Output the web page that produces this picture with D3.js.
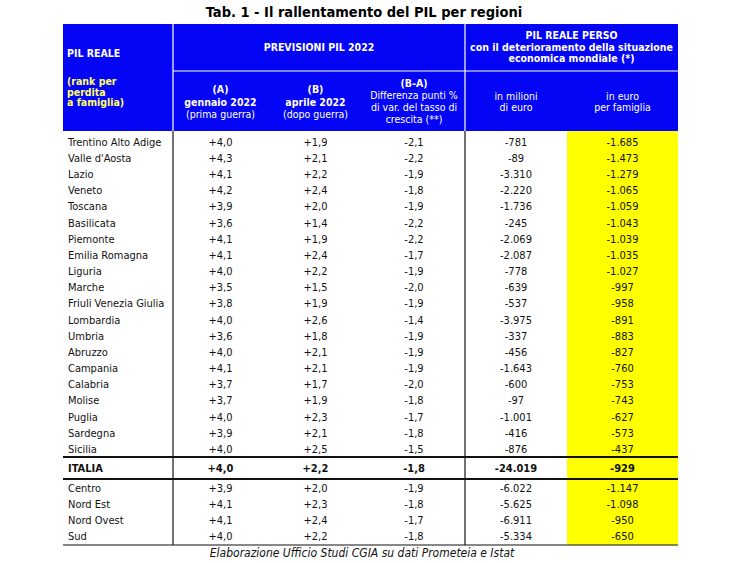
<!DOCTYPE html>
<html>
<head>
<meta charset="utf-8">
<script src="https://cdn.jsdelivr.net/npm/d3@7"></script>
<style>
  body { margin: 0; background: #fff; }
  svg { display: block; }
</style>
</head>
<body>
<svg id="chart"></svg>
<script>
// regioni in ordine di perdita per famiglia
const regions = ["Trentino Alto Adige", "Valle d'Aosta", "Lazio", "Veneto", "Toscana", "Basilicata",
  "Piemonte", "Emilia Romagna", "Liguria", "Marche", "Friuli Venezia Giulia", "Lombardia", "Umbria",
  "Abruzzo", "Campania", "Calabria", "Molise", "Puglia", "Sardegna", "Sicilia"];
const gennaio = [4.0, 4.3, 4.1, 4.2, 3.9, 3.6, 4.1, 4.1, 4.0, 3.5, 3.8, 4.0, 3.6, 4.0, 4.1, 3.7, 3.7, 4.0, 3.9, 4.0];
const aprile = [1.9, 2.1, 2.2, 2.4, 2.0, 1.4, 1.9, 2.4, 2.2, 1.5, 1.9, 2.6, 1.8, 2.1, 2.1, 1.7, 1.9, 2.3, 2.1, 2.5];
const differenza = [-2.1, -2.2, -1.9, -1.8, -1.9, -2.2, -2.2, -1.7, -1.9, -2.0, -1.9, -1.4, -1.9, -1.9, -1.9, -2.0, -1.8, -1.7, -1.8, -1.5];
const milioni = [-781, -89, -3310, -2220, -1736, -245, -2069, -2087, -778, -639, -537, -3975, -337, -456, -1643, -600, -97, -1001, -416, -876];
const famiglia = [-1685, -1473, -1279, -1065, -1059, -1043, -1039, -1035, -1027, -997, -958, -891, -883, -827, -760, -753, -743, -627, -573, -437];

// totale Italia
const italia = {name: "ITALIA", gen: 4.0, apr: 2.2, diff: -1.8, mil: -24019, fam: -929};

// ripartizioni
const areas = ["Centro", "Nord Est", "Nord Ovest", "Sud"];
const areaGennaio = [3.9, 4.1, 4.1, 4.0];
const areaAprile = [2.0, 2.3, 2.4, 2.2];
const areaDiff = [-1.9, -1.8, -1.7, -1.8];
const areaMilioni = [-6022, -5625, -6911, -5334];
const areaFamiglia = [-1147, -1098, -950, -650];

const title = "Tab. 1 - Il rallentamento del PIL per regioni";
const source = "Elaborazione Ufficio Studi CGIA su dati Prometeia e Istat";

const config = {
  width: 729, height: 563,
  left: 63, right: 678,
  headTop: 24, headMid: 71, headBottom: 131,
  bodyBottom: 545,
  blue: "#0505f5", yellow: "#ffff00", paleYellow: "#ffff66",
  font: "'DejaVu Sans Condensed', 'DejaVu Sans', sans-serif"
};

// formato italiano: virgola decimale, punto per le migliaia
const it = d3.formatLocale({decimal: ",", thousands: ".", grouping: [3], currency: ["", "€"], minus: "-"});
const fPct = it.format("+.1f");
const fInt = it.format(",d");

// righe della tabella
const rows = regions.map((r, i) => ({name: r, gen: gennaio[i], apr: aprile[i], diff: differenza[i], mil: milioni[i], fam: famiglia[i], slot: i, bold: false}));
rows.push(Object.assign({}, italia, {slot: 20.2, bold: true}));
areas.forEach((a, i) => rows.push({name: a, gen: areaGennaio[i], apr: areaAprile[i], diff: areaDiff[i], mil: areaMilioni[i], fam: areaFamiglia[i], slot: 21.45 + i * 0.99, bold: false}));

const svg = d3.select("#chart").attr("width", config.width).attr("height", config.height);

// scala verticale: posizione di riga -> y del centro
const y = d3.scaleLinear().domain([0, 19]).range([142, 449]);

// colonne: bordi
const colKeys = ["name", "gen", "apr", "diff", "mil", "fam"];
const colEdges = [63, 173, 268, 363, 465, 567, 678];
const x = d3.scaleOrdinal().domain(colKeys).range(colKeys.map((k, i) => (colEdges[i] + colEdges[i + 1]) / 2));

// titolo
svg.append("text")
  .attr("x", 364).attr("y", 17)
  .attr("text-anchor", "middle")
  .attr("font-family", config.font)
  .attr("font-weight", "bold")
  .attr("font-size", "14.5px")
  .attr("fill", "#000")
  .text(title);

// intestazione blu
svg.append("rect")
  .attr("x", config.left).attr("y", config.headTop)
  .attr("width", config.right - config.left).attr("height", config.headBottom - config.headTop)
  .attr("fill", config.blue);

// colonna gialla
svg.append("rect")
  .attr("x", colEdges[5]).attr("y", config.headBottom)
  .attr("width", colEdges[6] - colEdges[5]).attr("height", config.bodyBottom - config.headBottom)
  .attr("fill", config.yellow);

// linee bianche nell'intestazione
const hd = svg.append("g").attr("stroke", "#fff").attr("stroke-width", 1.2);
hd.append("line").attr("x1", colEdges[1]).attr("x2", colEdges[1]).attr("y1", config.headTop).attr("y2", config.headBottom);
hd.append("line").attr("x1", colEdges[4]).attr("x2", colEdges[4]).attr("y1", config.headTop).attr("y2", config.headBottom);
hd.append("line").attr("x1", colEdges[1]).attr("x2", config.right).attr("y1", config.headMid).attr("y2", config.headMid);

function multiline(g, lines, cx, cy, opts) {
  const lh = opts.lh || 11.5;
  const t = g.append("text")
    .attr("x", cx)
    .attr("text-anchor", opts.anchor || "middle")
    .attr("font-family", config.font)
    .attr("font-size", opts.size || "10.5px")
    .attr("fill", opts.fill || "#fff");
  const y0 = cy - (lines.length - 1) * lh / 2;
  lines.forEach((l, i) => {
    t.append("tspan")
      .attr("x", cx)
      .attr("y", y0 + i * lh)
      .attr("dy", "0.35em")
      .attr("font-weight", l.bold ? "bold" : "normal")
      .text(l.t);
  });
}

const head = svg.append("g");
multiline(head, [{t: "PIL REALE", bold: true}], 67, 53, {anchor: "start"});
multiline(head, [{t: "(rank per", bold: true}, {t: "perdita", bold: true}, {t: "a famiglia)", bold: true}], 67, 92,
  {anchor: "start", fill: config.paleYellow, lh: 10.8, size: "10.5px"});
multiline(head, [{t: "PREVISIONI PIL 2022", bold: true}], (colEdges[1] + colEdges[4]) / 2, 47, {});
multiline(head, [{t: "PIL REALE PERSO", bold: true}, {t: "con il deterioramento della situazione", bold: true},
  {t: "economica mondiale (*)", bold: true}], (colEdges[4] + colEdges[6]) / 2, 47, {});
multiline(head, [{t: "(A)", bold: true}, {t: "gennaio 2022", bold: true}, {t: "(prima guerra)"}], x("gen"), 102, {lh: 12.5});
multiline(head, [{t: "(B)", bold: true}, {t: "aprile 2022", bold: true}, {t: "(dopo guerra)"}], x("apr"), 102, {lh: 12.5});
multiline(head, [{t: "(B-A)", bold: true}, {t: "Differenza punti %"}, {t: "di var. del tasso di"}, {t: "crescita (**)"}], x("diff"), 101, {lh: 12});
multiline(head, [{t: "in milioni"}, {t: "di euro"}], x("mil"), 102, {lh: 11.5});
multiline(head, [{t: "in euro"}, {t: "per famiglia"}], x("fam"), 102, {lh: 11.5});

// corpo della tabella
const body = svg.append("g")
  .attr("font-family", config.font)
  .attr("font-size", "11px")
  .attr("fill", "#111");

const rowG = body.selectAll("g.row").data(rows).enter().append("g")
  .attr("class", "row")
  .attr("transform", d => `translate(0, ${y(d.slot)})`)
  .attr("font-weight", d => d.bold ? "bold" : "normal");

rowG.append("text").attr("x", 68).attr("dy", "0.35em").text(d => d.name);
rowG.append("text").attr("x", x("gen")).attr("dy", "0.35em").attr("text-anchor", "middle").text(d => fPct(d.gen));
rowG.append("text").attr("x", x("apr")).attr("dy", "0.35em").attr("text-anchor", "middle").text(d => fPct(d.apr));
rowG.append("text").attr("x", x("diff")).attr("dy", "0.35em").attr("text-anchor", "middle").text(d => fPct(d.diff));
rowG.append("text").attr("x", x("mil")).attr("dy", "0.35em").attr("text-anchor", "middle").text(d => fInt(d.mil));
rowG.append("text").attr("x", x("fam")).attr("dy", "0.35em").attr("text-anchor", "middle").text(d => fInt(d.fam));

// linee nere
const ln = svg.append("g").attr("stroke", "#111");
[colEdges[1], colEdges[4]].forEach(cx => {
  ln.append("line").attr("x1", cx).attr("x2", cx).attr("y1", config.headBottom).attr("y2", config.bodyBottom).attr("stroke-width", 1.2);
});
[457, 479].forEach(yy => {
  ln.append("line").attr("x1", config.left).attr("x2", config.right).attr("y1", yy).attr("y2", yy).attr("stroke-width", 1.8);
});
ln.append("line").attr("x1", config.left).attr("x2", config.right).attr("y1", config.bodyBottom).attr("y2", config.bodyBottom).attr("stroke-width", 1.2);

// fonte
svg.append("text")
  .attr("x", 362).attr("y", 553).attr("dy", "0.35em")
  .attr("text-anchor", "middle")
  .attr("font-family", config.font)
  .attr("font-style", "italic")
  .attr("font-size", "12px")
  .attr("fill", "#111")
  .text(source);
</script>
</body>
</html>
